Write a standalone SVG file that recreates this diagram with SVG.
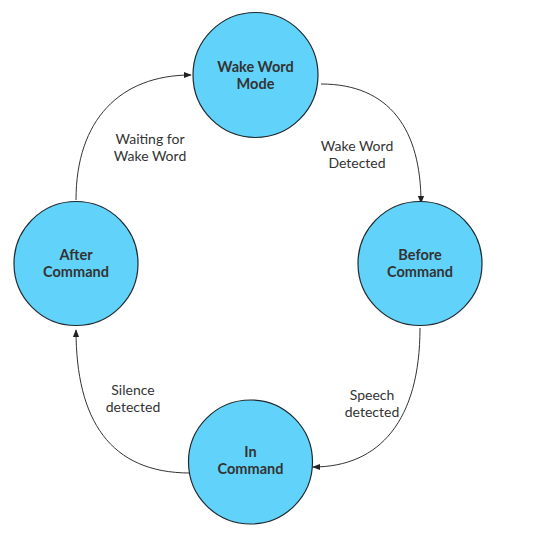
<svg xmlns="http://www.w3.org/2000/svg" width="536" height="553" viewBox="0 0 536 553">
<style>
.node{fill:#61d3fb;stroke:#1f2a30;stroke-width:1.2}
.nl{font-family:Lato,"Open Sans",sans-serif;font-size:14.5px;font-weight:bold;fill:#333;text-anchor:middle}
.el{font-family:Lato,"Open Sans",sans-serif;font-size:14px;fill:#333;text-anchor:middle}
.edge{fill:none;stroke:#333;stroke-width:1;marker-end:url(#arr)}
</style>
<defs>
<marker id="arr" viewBox="0 0 10 10" refX="9" refY="5" markerWidth="8" markerHeight="8" markerUnits="userSpaceOnUse" orient="auto">
<path d="M0,1 L10,5 L0,9 z" fill="#222"/>
</marker>
</defs>
<rect width="536" height="553" fill="#fff"/>
<g id="connectors">
<path class="edge" d="M321,84 C390,84 421,130 421,203"/>
<path class="edge" d="M420,328 C420,420 380,467 313,467"/>
<path class="edge" d="M190,473 C110,473 76,420 76,330"/>
<path class="edge" d="M76,200 C76,120 120,75 191,75"/>
<text class="el" x="357" y="151">Wake Word<tspan x="357" dy="17">Detected</tspan></text>
<text class="el" x="372" y="400">Speech<tspan x="372" dy="17">detected</tspan></text>
<text class="el" x="133" y="395">Silence<tspan x="133" dy="17">detected</tspan></text>
<text class="el" x="150" y="144">Waiting for<tspan x="150" dy="17">Wake Word</tspan></text>
</g>
<g id="wake"><circle class="node" cx="255.5" cy="75" r="62.5"/><text class="nl" x="255.5" y="72">Wake Word<tspan x="255.5" dy="17">Mode</tspan></text></g>
<g id="before"><circle class="node" cx="420" cy="263.5" r="62"/><text class="nl" x="420" y="260">Before<tspan x="420" dy="17">Command</tspan></text></g>
<g id="in"><circle class="node" cx="250.5" cy="462" r="62"/><text class="nl" x="250.5" y="457">In<tspan x="250.5" dy="17">Command</tspan></text></g>
<g id="after"><circle class="node" cx="76" cy="263.5" r="62"/><text class="nl" x="76" y="260">After<tspan x="76" dy="17">Command</tspan></text></g>
</svg>
